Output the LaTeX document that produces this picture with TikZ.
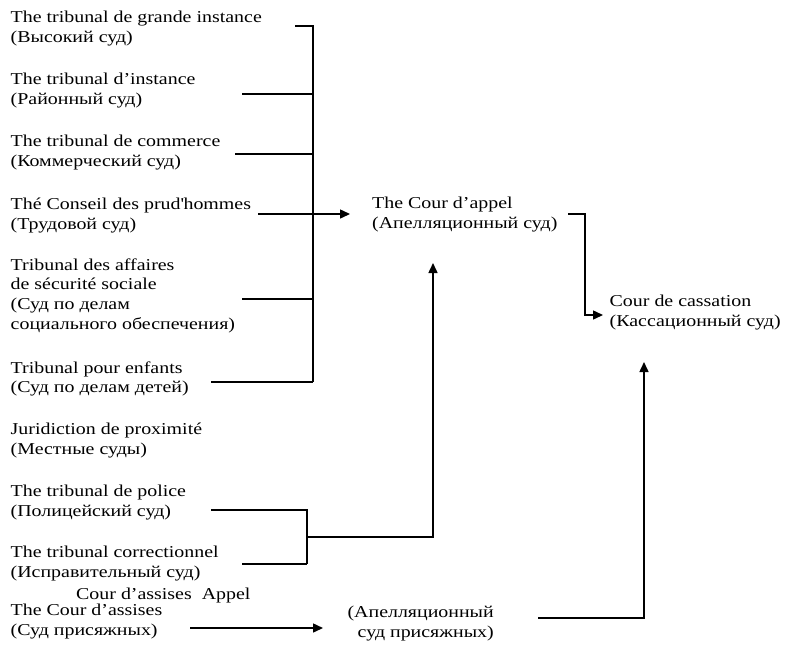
\documentclass[tikz,border=0pt]{standalone}
\usepackage{fontspec}
\setmainfont{Liberation Serif}[FakeStretch=1.2]
\usetikzlibrary{arrows.meta}

\begin{document}
\begin{tikzpicture}[x=1pt,y=-1pt,
    court/.style={anchor=north west,inner sep=0pt,align=left,
      font=\fontsize{16.6}{19.7}\selectfont,execute at begin node=\strut},
    link/.style={line width=1.5pt},
    arr/.style={line width=1.5pt,-{Triangle[length=10pt,width=9pt]}}]
  \useasboundingbox (0,0) rectangle (785,646);
  \draw
    (10.5,11.2) node[court] (tgi) {The tribunal de grande instance\\(Высокий суд)}
    (10.5,73.2) node[court] (ti) {The tribunal d’instance\\(Районный суд)}
    (10.5,135.2) node[court] (tc) {The tribunal de commerce\\(Коммерческий суд)}
    (10.5,198.2) node[court] (cph) {Thé Conseil des prud\textquotesingle hommes\\(Трудовой суд)}
    (10.5,258.2) node[court] (tass) {Tribunal des affaires\\de sécurité sociale\\(Суд по делам\\социального обеспечения)}
    (10.5,361.2) node[court] (tpe) {Tribunal pour enfants\\(Суд по делам детей)}
    (10.5,423.2) node[court] (jp) {Juridiction de proximité\\(Местные суды)}
    (10.5,485.2) node[court] (tp) {The tribunal de police\\(Полицейский суд)}
    (10.5,546.2) node[court] (tcor) {The tribunal correctionnel\\(Исправительный суд)}
    (76,585.2) node[court] (assapp) {Cour d’assises\ \ Appel}
    (10.5,604.2) node[court] (cass) {The Cour d’assises\\(Суд присяжных)}
    (372,197.2) node[court] (appel) {The Cour d’appel\\(Апелляционный суд)}
    (609.5,295.2) node[court] (cassation) {Cour de cassation\\(Кассационный суд)}
    (494,606.2) node[court,anchor=north east,align=right] (apass) {(Апелляционный\\суд присяжных)};
  \coordinate (tgi-r) at (295,26);
  \coordinate (ti-r) at (242,94);
  \coordinate (tc-r) at (235,154);
  \coordinate (cph-r) at (258,214);
  \coordinate (tass-r) at (242,299);
  \coordinate (tpe-r) at (211,382);
  \coordinate (bus-b) at (313,382);
  \coordinate (appel-in) at (350,214);
  \coordinate (tp-r) at (211,510);
  \coordinate (tcor-r) at (242,564);
  \coordinate (tcor-j) at (307,564);
  \coordinate (crim-j) at (307,537);
  \coordinate (appel-b) at (433,263);
  \coordinate (cass-r) at (190,628);
  \coordinate (apass-in) at (323,628);
  \coordinate (apass-r) at (538,618);
  \coordinate (cassation-b) at (644,362);
  \coordinate (appel-r) at (568,214);
  \coordinate (cassation-in) at (603,315);
  \draw[link] (tgi-r) -| (bus-b);
  \draw[link] (ti-r) -- (ti-r -| bus-b);
  \draw[link] (tc-r) -- (tc-r -| bus-b);
  \draw[link] (tass-r) -- (tass-r -| bus-b);
  \draw[link] (tpe-r) -- (bus-b);
  \draw[arr] (cph-r) -- (appel-in);
  \draw[link] (tp-r) -| (tcor-j);
  \draw[link] (tcor-r) -- (tcor-j);
  \draw[arr] (crim-j) -| (appel-b);
  \draw[arr] (cass-r) -- (apass-in);
  \draw[arr] (apass-r) -| (cassation-b);
  \draw[arr] (appel-r) -- ++(17,0) |- (cassation-in);
\end{tikzpicture}
\end{document}
